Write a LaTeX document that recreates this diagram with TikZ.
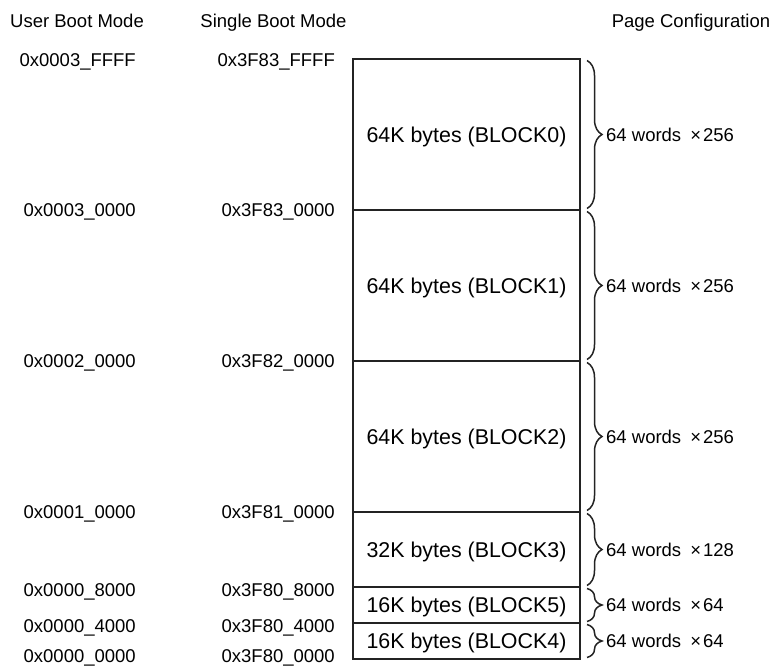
\documentclass[tikz,border=0pt]{standalone}
\usepackage{fontspec}
\setmainfont{Liberation Sans}
\usetikzlibrary{positioning, decorations.pathreplacing}
\definecolor{myline}{RGB}{35,35,35}
\tikzset{
  memblock/.style={rectangle, draw=myline, line width=1.8pt,
    minimum width=227pt, inner sep=0pt, outer sep=0pt,
    text depth=0pt, font=\fontsize{21.4}{24}\selectfont},
  hdr/.style={anchor=base, inner sep=0pt, font=\fontsize{18.5}{22}\selectfont},
  addr/.style={anchor=east, inner sep=0pt, text height=13.3pt,
    text depth=0pt, font=\fontsize{18.5}{22}\selectfont},
  pgtext/.style={inner sep=0pt, text height=13.3pt, text depth=0pt,
    font=\fontsize{18.5}{22}\selectfont},
  pgbrace/.style={decorate, decoration={brace, amplitude=15pt},
    line width=1.5pt, color=myline}
}

\begin{document}
\begin{tikzpicture}[x=1pt, y=-1pt]
  \useasboundingbox (0,0) rectangle (773,666);
  % column headers
  \node[hdr] (huser) at (77,28) {User Boot Mode};
  \node[hdr] (hsingle) at (273.5,28) {Single Boot Mode};
  \node[hdr] (hpage) at (691,28) {Page Configuration};
  % memory blocks
  \node[memblock, minimum height=151pt] (blk0) at (466.5,134.5) {64K bytes (BLOCK0)};
  \node[memblock, minimum height=151pt, below=0pt of blk0] (blk1) {64K bytes (BLOCK1)};
  \node[memblock, minimum height=151pt, below=0pt of blk1] (blk2) {64K bytes (BLOCK2)};
  \node[memblock, minimum height=75pt, below=0pt of blk2] (blk3) {32K bytes (BLOCK3)};
  \node[memblock, minimum height=36pt, below=0pt of blk3] (blk5) {16K bytes (BLOCK5)};
  \node[memblock, minimum height=36pt, below=0pt of blk5] (blk4) {16K bytes (BLOCK4)};
  % addresses
  \foreach \yy/\ua/\sa [count=\i] in {60/0x0003\_FFFF/0x3F83\_FFFF,
      210/0x0003\_0000/0x3F83\_0000, 361/0x0002\_0000/0x3F82\_0000,
      512/0x0001\_0000/0x3F81\_0000, 589.5/0x0000\_8000/0x3F80\_8000,
      626/0x0000\_4000/0x3F80\_4000, 656/0x0000\_0000/0x3F80\_0000}{
    \node[addr] (u\i) at (136,\yy) {\ua};
    \node[addr] (s\i) at (335,\yy) {\sa};
  }
  % page configuration
  \foreach \b/\n in {0/256, 1/256, 2/256, 3/128, 5/64, 4/64}{
    \draw[pgbrace] ([xshift=7pt, yshift=-1.5pt]blk\b.north east)
      -- ([xshift=7pt, yshift=1.5pt]blk\b.south east);
    \node[pgtext, right=26pt of blk\b.east] (pg\b) {64 words\hspace{9pt}×\hspace{2pt}\n};
  }
\end{tikzpicture}
\end{document}
